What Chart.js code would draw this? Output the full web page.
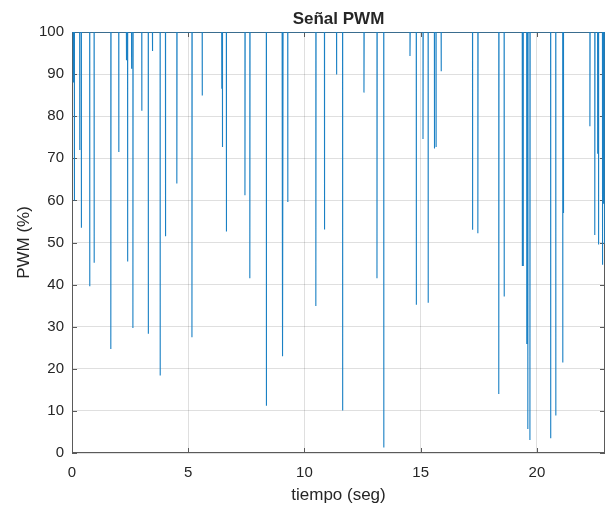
<!DOCTYPE html>
<html>
<head>
<meta charset="utf-8">
<script src="https://cdn.jsdelivr.net/npm/chart.js@4"></script>
<style>
  body { margin: 0; background: #fff; }
  #wrap { width: 606px; height: 506px; }
</style>
</head>
<body>
<div id="wrap"><canvas id="pwm"></canvas></div>
<script>
// spike times (seg) and the PWM value each one drops to (%)
const spikeTimes = [
  0.05, 0.10, 0.33, 0.40, 0.76, 0.95, 1.67, 2.01, 2.34, 2.39, 2.56, 2.62,
  3.00, 3.28, 3.46, 3.79, 4.02, 4.51, 5.16, 5.60, 6.44, 6.47, 6.64, 7.44,
  7.65, 8.36, 9.04, 9.07, 9.28, 10.49, 10.86, 11.38, 11.64, 12.56, 13.12, 13.41,
  14.54, 14.81, 15.10, 15.32, 15.59, 15.66, 15.88, 17.23, 17.46, 18.36, 18.59, 19.37,
  19.41, 19.56, 19.61, 19.70, 20.59, 20.81, 21.11, 21.14, 22.28, 22.49, 22.61, 22.65,
  22.82, 22.86, 22.92
];
const spikeValues = [
  88, 60, 72, 53.5, 39.6, 45.2, 24.7, 71.5, 93.3, 45.5, 91.3, 29.7,
  81.3, 28.3, 95.5, 18.4, 51.5, 64, 27.5, 84.9, 86.5, 72.7, 52.6, 61.2,
  41.5, 11.2, 81, 23, 59.6, 34.9, 53.1, 89.9, 10.1, 85.6, 41.5, 1.3,
  94.3, 35.2, 74.6, 35.7, 72.3, 72.7, 90.7, 53, 52.2, 14, 37.2, 44.4,
  44.4, 25.9, 5.7, 3.1, 3.5, 8.9, 21.5, 57, 77.6, 51.8, 71.1, 49.5,
  44.7, 59.2, 49.7
];
const fullDuty = 100;
const tEnd = 22.93;
const xTicks = [0, 5, 10, 15, 20];
const yTicks = [0, 10, 20, 30, 40, 50, 60, 70, 80, 90, 100];

const textColor = "#262626";
const fontFamily = "'Liberation Sans', Arial, Helvetica, sans-serif";

// signal: stays at 100 and drops for one sample at each spike
const points = [{ x: 0, y: fullDuty }];
spikeTimes.forEach((t, i) => {
  points.push({ x: t, y: fullDuty });
  points.push({ x: t, y: spikeValues[i] });
  points.push({ x: t + 0.01, y: fullDuty });
});
points.push({ x: tEnd, y: fullDuty });

// matlab style box with inward ticks
const boxPlugin = {
  id: "box",
  beforeDatasetsDraw(chart) {
    const { ctx, chartArea: a, scales } = chart;
    ctx.save();
    ctx.strokeStyle = "#5a5a5a";
    ctx.lineWidth = 1;
    ctx.strokeRect(a.left + 0.5, a.top + 0.5, a.right - a.left - 1, a.bottom - a.top - 1);
    ctx.beginPath();
    xTicks.forEach((v) => {
      const px = Math.round(scales.x.getPixelForValue(v)) + 0.5;
      ctx.moveTo(px, a.bottom); ctx.lineTo(px, a.bottom - 5);
      ctx.moveTo(px, a.top); ctx.lineTo(px, a.top + 5);
    });
    yTicks.forEach((v) => {
      const py = Math.round(scales.y.getPixelForValue(v)) + 0.5;
      ctx.moveTo(a.left, py); ctx.lineTo(a.left + 5, py);
      ctx.moveTo(a.right, py); ctx.lineTo(a.right - 5, py);
    });
    ctx.stroke();
    ctx.restore();
  },
};

new Chart(document.getElementById("pwm"), {
  type: "line",
  data: {
    datasets: [
      {
        data: points,
        borderColor: "#1a80c4",
        borderWidth: 1.1,
        pointRadius: 0,
        tension: 0,
        fill: false,
      },
    ],
  },
  options: {
    responsive: true,
    maintainAspectRatio: false,
    animation: false,
    layout: { padding: { left: 0, right: 1, top: 0, bottom: 0 } },
    plugins: {
      legend: { display: false },
      tooltip: { enabled: false },
      title: {
        display: true,
        text: "Señal PWM",
        fullSize: false,
        color: textColor,
        font: { family: fontFamily, size: 17, weight: "bold" },
        padding: { top: 9, bottom: 2.6 },
      },
    },
    scales: {
      x: {
        type: "linear",
        min: 0,
        max: tEnd,
        afterFit(scale) { scale.height = 53; },
        afterBuildTicks(scale) { scale.ticks = xTicks.map((v) => ({ value: v })); },
        ticks: {
          color: textColor,
          font: { family: fontFamily, size: 15 },
          padding: 11,
          maxRotation: 0,
          includeBounds: false,
        },
        grid: { color: "rgba(38,38,38,0.15)", drawTicks: false },
        border: { display: false },
        title: {
          display: true,
          text: "tiempo (seg)",
          color: textColor,
          font: { family: fontFamily, size: 17 },
          padding: { top: 0, bottom: 0 },
        },
      },
      y: {
        min: 0,
        max: 100,
        afterFit(scale) { scale.width = 72; },
        afterBuildTicks(scale) { scale.ticks = yTicks.map((v) => ({ value: v })); },
        ticks: {
          color: textColor,
          font: { family: fontFamily, size: 15 },
          padding: 8,
        },
        grid: { color: "rgba(38,38,38,0.15)", drawTicks: false },
        border: { display: false },
        title: {
          display: true,
          text: "PWM (%)",
          color: textColor,
          font: { family: fontFamily, size: 17 },
          padding: { top: 14, bottom: 0 },
        },
      },
    },
  },
  plugins: [boxPlugin],
});
</script>
</body>
</html>
